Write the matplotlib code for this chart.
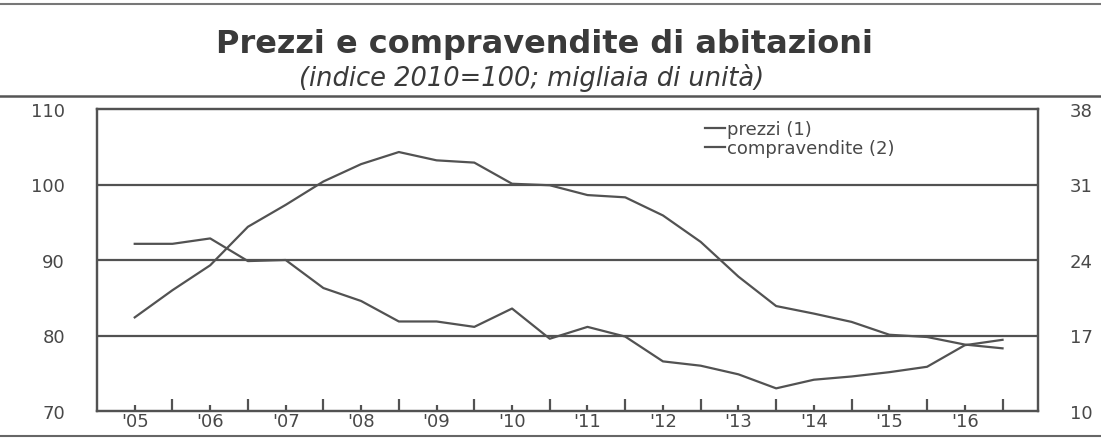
import matplotlib
matplotlib.use("Agg")
import matplotlib.pyplot as plt
from matplotlib.lines import Line2D
import numpy as np

# ---- data (semi-annual, end of each half year) ----
periods = ["2005H1", "2005H2", "2006H1", "2006H2", "2007H1", "2007H2",
           "2008H1", "2008H2", "2009H1", "2009H2", "2010H1", "2010H2",
           "2011H1", "2011H2", "2012H1", "2012H2", "2013H1", "2013H2",
           "2014H1", "2014H2", "2015H1", "2015H2", "2016H1", "2016H2"]
prezzi = [82.4, 86.0, 89.3, 94.4, 97.3, 100.4, 102.7, 104.3, 103.2, 102.9,
          100.1, 99.9, 98.6, 98.3, 95.9, 92.4, 87.8, 83.9, 82.9, 81.8,
          80.1, 79.8, 78.8, 78.3]
compravendite = [25.5, 25.5, 26.0, 23.9, 24.0, 21.4, 20.2, 18.3, 18.3, 17.8,
                 19.5, 16.7, 17.8, 16.9, 14.6, 14.2, 13.4, 12.1, 12.9, 13.2,
                 13.6, 14.1, 16.1, 16.6]
year_labels = ["'05", "'06", "'07", "'08", "'09", "'10", "'11", "'12",
               "'13", "'14", "'15", "'16"]
left_ticks = [70, 80, 90, 100, 110]
right_ticks = [10, 17, 24, 31, 38]
right_labels = ["10", "17", "24", "31", "38"]

title = "Prezzi e compravendite di abitazioni"
subtitle = "(indice 2010=100; migliaia di unità)"

# ---- positions ----
def period_x(p):
    yr = int(p[:4])
    return yr + (0.5 if p.endswith("H1") else 1.0)

x = [period_x(p) for p in periods]
first_year = 2005
label_pos = [first_year + i + 0.5 for i in range(len(year_labels))]
major_pos = [first_year + i + 1 for i in range(len(year_labels))]

col = "#525252"
txtcol = "#484848"
fs_tick = 13

fig = plt.figure(figsize=(11.01, 4.39), dpi=100)
fig.patch.set_facecolor("white")
ax = fig.add_axes([97/1101, 1-412/439, (1038-97)/1101, (412-110)/439])

ax.set_xlim(2005.0, 2017.47)
ax.set_ylim(70, 110)

ax.plot(x, prezzi, color=col, lw=1.6)
for g in [80, 90, 100]:
    ax.axhline(g, color=col, lw=1.6, zorder=0)

ax2 = ax.twinx()
ax2.set_ylim(10, 38)
ax2.plot(x, compravendite, color=col, lw=1.6)

for a in (ax, ax2):
    for s in a.spines.values():
        s.set_color(col)
        s.set_linewidth(1.6)

ax.set_yticks(left_ticks)
ax.set_yticklabels([str(v) for v in left_ticks])
ax.tick_params(axis="y", length=0, pad=23, labelsize=fs_tick, labelcolor=txtcol)
ax2.set_yticks(right_ticks)
ax2.set_yticklabels(right_labels)
ax2.tick_params(axis="y", length=0, pad=23, labelsize=fs_tick, labelcolor=txtcol)

ax.set_xticks(major_pos)
ax.set_xticklabels([])
ax.set_xticks(label_pos, minor=True)
ax.set_xticklabels(year_labels, minor=True)
ax.tick_params(axis="x", which="major", direction="in", length=8.5, width=1.6, color=col)
ax.tick_params(axis="x", which="minor", direction="in", length=4, width=1.6, color=col,
               pad=1, labelsize=fs_tick, labelcolor=txtcol)

# legend
handles = [Line2D([], [], color=col, lw=1.6), Line2D([], [], color=col, lw=1.6)]
fig.legend(handles, ["prezzi (1)", "compravendite (2)"], loc="upper left",
           bbox_to_anchor=(705/1101, 1-121/439), frameon=False, fontsize=13,
           handlelength=1.1, handletextpad=0.1, labelspacing=0.05,
           borderaxespad=0, borderpad=0, labelcolor=txtcol)

# titles
fig.text(545/1101, 1-45/439, title, ha="center", va="center", fontsize=23,
         fontweight="bold", color="#3a3a3a")
fig.text(532/1101, 1-78/439, subtitle, ha="center", va="center", fontsize=18.5,
         style="italic", color="#3a3a3a")

# page rules
fig.add_artist(Line2D([0, 1], [1-5/439, 1-5/439], color="#777777", lw=1.5))
fig.add_artist(Line2D([0, 1], [1-97/439, 1-97/439], color="#555555", lw=1.8))
fig.add_artist(Line2D([0, 1], [1-437/439, 1-437/439], color="#666666", lw=1.5))

fig.savefig("out.png", dpi=100, facecolor="white")
